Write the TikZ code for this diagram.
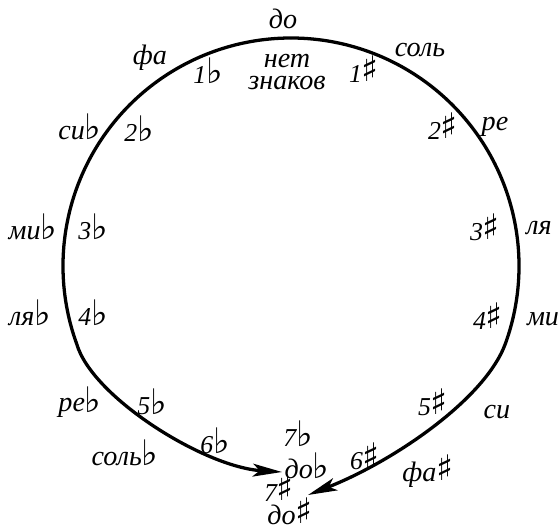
\documentclass[tikz,border=0pt]{standalone}
\usepackage{fontspec}
\setmainfont{Liberation Serif}
\newfontfamily\accfont{DejaVu Sans}
\usetikzlibrary{arrows.meta}
\newcommand{\Fl}{\raisebox{-0.5pt}{\scalebox{1.5}{\accfont\upshape\fontsize{20}{22}\selectfont ♭}}}
\newcommand{\Sh}{\raisebox{1pt}{\scalebox{1.5}{\accfont\upshape\fontsize{20}{22}\selectfont ♯}}}
\tikzset{
  key label/.style={font=\fontsize{24}{18}\selectfont\itshape, inner sep=0pt},
  count label/.style={font=\fontsize{22}{22}\selectfont\itshape, inner sep=0pt},
  fifths line/.style={line width=2.8pt, -{Stealth[length=25pt, width=11pt, inset=6pt]}},
}

\begin{document}
\begin{tikzpicture}[x=0.03cm, y=0.03cm]
  \useasboundingbox (0,0) rectangle (559,-531);
  % circle of fifths
  \coordinate (top) at (291,-38);
  \coordinate (flat end) at (282,-472);
  \coordinate (sharp end) at (308,-495);
  \draw[fifths line] (top) arc[start angle=90, end angle=200, radius=6.84cm]
    .. controls (92,-397) and (204,-467) .. (flat end);
  \draw[fifths line] (top) arc[start angle=90, end angle=-20, radius=6.84cm]
    .. controls (484.5,-400) and (392,-462) .. (sharp end);
  % keys
  \node[key label] (do) at (283,-19) {до};
  \node[key label] (fa) at (150,-58) {фа};
  \node[key label] (sol) at (420,-50) {соль};
  \node[key label, align=center] (none) at (287,-72) {нет\\знаков};
  \node[key label] (sib) at (80,-127) {си\Fl};
  \node[key label] (re) at (495,-127) {ре};
  \node[key label] (mib) at (33,-227) {ми\Fl};
  \node[key label] (la) at (539,-228) {ля};
  \node[key label] (lab) at (30,-313) {ля\Fl};
  \node[key label] (mi) at (543,-319) {ми};
  \node[key label] (reb) at (80,-402) {ре\Fl};
  \node[key label] (si) at (497,-412) {си};
  \node[key label] (solb) at (125,-453) {соль\Fl};
  \node[key label] (fas) at (428,-471) {фа\Sh};
  \node[key label] (dob) at (307,-466) {до\Fl};
  \node[key label] (dos) at (290,-511) {до\Sh};
  % number of accidentals
  \node[count label] (flat1) at (208,-71) {1\Fl};
  \node[count label] (flat2) at (139,-129) {2\Fl};
  \node[count label] (flat3) at (93,-227) {3\Fl};
  \node[count label] (flat4) at (93,-313) {4\Fl};
  \node[count label] (flat5) at (152,-402) {5\Fl};
  \node[count label] (flat6) at (215,-441) {6\Fl};
  \node[count label] (flat7) at (298,-434) {7\Fl};
  \node[count label] (sharp1) at (364,-69) {1\Sh};
  \node[count label] (sharp2) at (443,-126) {2\Sh};
  \node[count label] (sharp3) at (485,-227) {3\Sh};
  \node[count label] (sharp4) at (488,-316) {4\Sh};
  \node[count label] (sharp5) at (433,-402) {5\Sh};
  \node[count label] (sharp6) at (365,-456) {6\Sh};
  \node[count label] (sharp7) at (279,-488) {7\Sh};
\end{tikzpicture}
\end{document}
